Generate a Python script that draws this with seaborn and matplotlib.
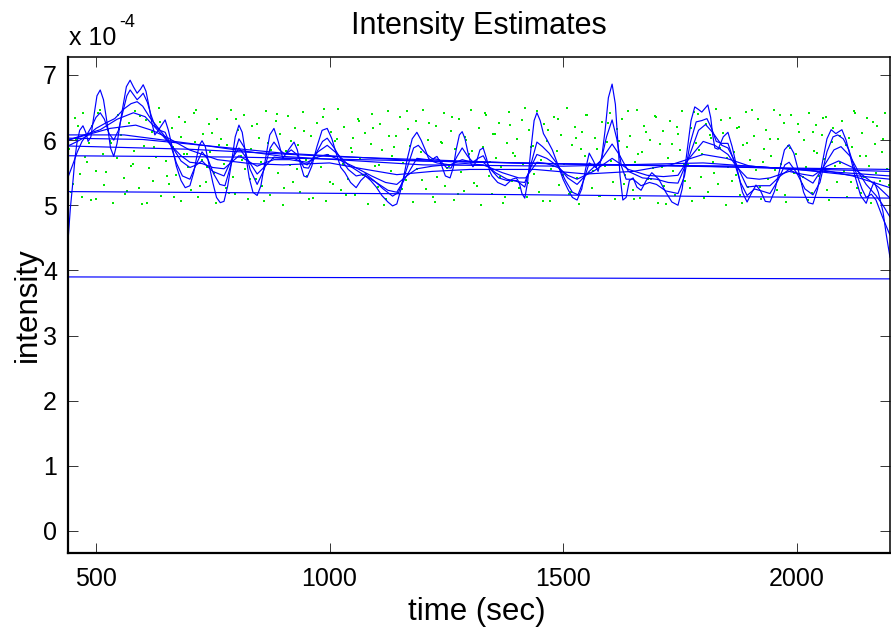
import numpy as np
import pandas as pd
import matplotlib
matplotlib.use("Agg")
import matplotlib.pyplot as plt
import seaborn as sns

# ---------------- data (intensity in units of 1e-4) ----------------
x_ticks = [500, 1000, 1500, 2000]
y_ticks = [0, 1, 2, 3, 4, 5, 6, 7]

c0_t = [440, 2200]
c0_y = [3.90, 3.87]

c1_t = [440, 1300, 2200]
c1_y = [5.21, 5.17, 5.11]

c2_t = [440, 800, 1200, 1600, 2000, 2200]
c2_y = [5.76, 5.74, 5.68, 5.62, 5.57, 5.55]

c3_t = [440, 700, 1000, 1400, 1800, 2200]
c3_y = [5.91, 5.86, 5.75, 5.65, 5.60, 5.52]

c4_t = [440, 600, 900, 1200, 1600, 1900, 2200]
c4_y = [6.03, 6.01, 5.80, 5.68, 5.62, 5.60, 5.45]

c5_t = [440, 560, 700, 900, 1200, 1500, 1800, 2000, 2200]
c5_y = [6.08, 6.08, 5.95, 5.75, 5.62, 5.60, 5.65, 5.55, 5.40]

c6_t = [440, 480, 530, 585, 620, 650, 700, 760, 830, 900, 1000, 1070, 1144, 1220, 1300,
        1440, 1550, 1650, 1730, 1800, 1850, 1900, 1980, 2050, 2120, 2200]
c6_y = [6.00, 6.08, 6.18, 6.23, 6.15, 6.05, 5.85, 5.70, 5.64, 5.62, 5.65, 5.56, 5.47, 5.52, 5.55,
        5.55, 5.48, 5.52, 5.62, 5.78, 5.72, 5.60, 5.56, 5.55, 5.45, 5.27]

c7_t = [440, 470, 509, 545, 580, 605, 626, 645, 663, 682, 701, 727, 750, 774, 790, 806, 825,
        845, 865, 881, 915, 952, 975, 995, 1020, 1050, 1090, 1120, 1144, 1165, 1187, 1220,
        1250, 1290, 1329, 1370, 1405, 1420, 1444, 1465, 1489, 1510, 1530, 1565, 1605, 1640,
        1680, 1715, 1746, 1770, 1800, 1825, 1853, 1873, 1894, 1920, 1943, 1984, 2010, 2035,
        2065, 2090, 2120, 2149, 2175, 2200]
c7_y = [6.00, 6.07, 6.16, 6.32, 6.42, 6.36, 6.20, 6.05, 5.90, 5.76, 5.66, 5.64, 5.58, 5.56, 5.66, 5.76, 5.68,
        5.60, 5.66, 5.70, 5.70, 5.66, 5.74, 5.78, 5.70, 5.60, 5.45, 5.35, 5.32, 5.45, 5.56, 5.60,
        5.62, 5.64, 5.62, 5.50, 5.42, 5.42, 5.66, 5.64, 5.58, 5.46, 5.40, 5.52, 5.72, 5.55,
        5.46, 5.44, 5.46, 5.72, 5.98, 5.92, 5.78, 5.58, 5.42, 5.40, 5.42, 5.52, 5.48, 5.45,
        5.60, 5.68, 5.58, 5.42, 5.28, 5.11]

c8_t = [440, 460, 480, 500, 520, 540, 560, 575, 588, 600, 615, 626, 645, 663, 682, 701, 715,
        727, 750, 774, 790, 806, 825, 845, 865, 881, 900, 924, 952, 975, 995, 1015, 1040, 1070,
        1100, 1125, 1144, 1165, 1187, 1210, 1230, 1258, 1284, 1305, 1329, 1355, 1380, 1405,
        1418, 1432, 1444, 1465, 1489, 1510, 1530, 1556, 1580, 1605, 1620, 1640, 1670, 1700,
        1725, 1746, 1770, 1790, 1805, 1820, 1840, 1853, 1873, 1894, 1920, 1943, 1965, 1984,
        2010, 2035, 2060, 2080, 2095, 2115, 2135, 2149, 2170, 2185, 2200]
c8_y = [5.91, 5.98, 6.06, 6.18, 6.26, 6.33, 6.48, 6.56, 6.59, 6.52, 6.35, 6.25, 6.08, 5.90, 5.68, 5.58, 5.62,
        5.68, 5.52, 5.45, 5.70, 5.88, 5.70, 5.48, 5.62, 5.74, 5.72, 5.72, 5.62, 5.82, 5.92, 5.80, 5.62, 5.48,
        5.35, 5.23, 5.20, 5.45, 5.72, 5.70, 5.65, 5.62, 5.70, 5.66, 5.66, 5.50, 5.40, 5.36,
        5.35, 5.60, 5.78, 5.72, 5.60, 5.42, 5.32, 5.52, 5.68, 5.94, 5.78, 5.52, 5.42, 5.40,
        5.35, 5.34, 5.75, 6.15, 6.24, 6.12, 5.92, 5.88, 5.60, 5.28, 5.30, 5.30, 5.45, 5.55,
        5.45, 5.34, 5.62, 5.85, 5.90, 5.75, 5.48, 5.32, 5.15, 5.00, 4.82]

c9_t = [440, 450, 460, 470, 480, 490, 500, 509, 518, 528, 538, 548, 558, 566, 573, 580, 588,
        595, 601, 610, 618, 626, 637, 648, 660, 672, 685, 701, 714, 727, 740, 752, 765, 776,
        790, 806, 818, 830, 845, 860, 873, 881, 893, 905, 918, 930, 945, 955, 970, 985, 995,
        1010, 1025, 1040, 1057, 1077, 1095, 1115, 1135, 1148, 1165, 1180, 1190, 1205, 1219,
        1235, 1250, 1260, 1273, 1284, 1296, 1307, 1318, 1329, 1345, 1362, 1380, 1400, 1418,
        1430, 1444, 1456, 1470, 1489, 1505, 1520, 1532, 1545, 1556, 1570, 1582, 1593, 1605,
        1615, 1625, 1635, 1650, 1667, 1685, 1700, 1720, 1746, 1760, 1772, 1785, 1797, 1808,
        1818, 1828, 1840, 1853, 1865, 1880, 1894, 1910, 1925, 1943, 1960, 1975, 1984, 2000,
        2018, 2035, 2050, 2065, 2078, 2088, 2100, 2112, 2125, 2140, 2149, 2160, 2170, 2185, 2200]
c9_y = [5.43, 5.62, 5.82, 5.98, 6.08, 6.20, 6.35, 6.42, 6.32, 6.10, 6.00, 6.15, 6.45, 6.68, 6.77, 6.70, 6.62,
        6.67, 6.72, 6.58, 6.38, 6.22, 6.15, 6.12, 5.92, 5.65, 5.45, 5.40, 5.62, 5.82, 5.70, 5.48, 5.32, 5.30,
        5.65, 6.02, 5.88, 5.55, 5.32, 5.55, 5.88, 5.97, 5.85, 5.78, 5.85, 5.78, 5.58, 5.57, 5.78, 5.98, 6.03,
        5.88, 5.70, 5.55, 5.45, 5.48, 5.38, 5.25, 5.14, 5.20, 5.55, 5.88, 5.92, 5.80, 5.72,
        5.70, 5.58, 5.57, 5.75, 5.88, 5.75, 5.66, 5.72, 5.76, 5.55, 5.42, 5.38, 5.38, 5.28,
        5.60, 5.97, 5.90, 5.80, 5.62, 5.38, 5.20, 5.16, 5.40, 5.65, 5.58, 5.70, 6.05, 6.31,
        6.02, 5.60, 5.40, 5.40, 5.30, 5.35, 5.32, 5.22, 5.18, 5.45, 5.95, 6.28, 6.30, 6.33,
        6.18, 5.98, 5.95, 5.95, 5.70, 5.35, 5.15, 5.25, 5.22, 5.18, 5.38, 5.62, 5.66, 5.50,
        5.25, 5.16, 5.35, 5.82, 6.05, 6.08, 6.02, 5.85, 5.55, 5.25, 5.12, 5.17, 5.08, 4.80, 4.54]

c10_t = [440, 445, 451, 455, 459, 465, 472, 478, 483, 489, 495, 502, 509, 516, 524, 531, 538,
         545, 556, 565, 573, 580, 588, 595, 601, 607, 614, 620, 626, 636, 648, 655, 663, 672,
         682, 691, 701, 709, 715, 721, 727, 734, 742, 750, 758, 766, 774, 782, 790, 798, 806,
         813, 820, 828, 836, 845, 853, 863, 872, 881, 890, 900, 912, 924, 931, 938, 945, 952,
         962, 973, 984, 995, 1005, 1015, 1024, 1033, 1045, 1057, 1067, 1077, 1088, 1100, 1112,
         1125, 1135, 1144, 1155, 1166, 1177, 1187, 1196, 1205, 1212, 1219, 1225, 1230, 1238,
         1248, 1258, 1265, 1271, 1278, 1284, 1290, 1296, 1302, 1307, 1315, 1322, 1329, 1336,
         1343, 1348, 1360, 1376, 1391, 1400, 1406, 1412, 1418, 1424, 1431, 1438, 1444, 1451,
         1458, 1466, 1477, 1489, 1500, 1510, 1520, 1530, 1540, 1548, 1556, 1565, 1575, 1583,
         1590, 1597, 1605, 1612, 1617, 1622, 1628, 1635, 1642, 1650, 1658, 1667, 1678, 1690,
         1705, 1720, 1733, 1746, 1755, 1765, 1774, 1782, 1790, 1797, 1803, 1810, 1816, 1821,
         1825, 1832, 1843, 1853, 1862, 1873, 1884, 1894, 1903, 1913, 1923, 1933, 1943, 1953,
         1964, 1974, 1984, 1994, 2005, 2015, 2025, 2035, 2045, 2055, 2065, 2074, 2084, 2097,
         2106, 2115, 2125, 2137, 2149, 2158, 2166, 2175, 2185, 2192, 2200]
c10_y = [4.45, 4.95, 5.40, 5.72, 5.95, 6.15, 6.22, 6.12, 5.98, 6.05, 6.35, 6.68, 6.77, 6.62, 6.25, 5.88, 5.75,
         5.95, 6.45, 6.82, 6.92, 6.82, 6.72, 6.78, 6.85, 6.75, 6.50, 6.25, 6.08, 6.18, 6.31, 6.15, 5.90, 5.60,
         5.38, 5.27, 5.30, 5.50, 5.72, 5.92, 5.99, 5.90, 5.62, 5.35, 5.12, 5.04, 5.06, 5.30, 5.65, 6.05, 6.23,
         6.12, 5.80, 5.42, 5.20, 5.15, 5.30, 5.72, 6.08, 6.18, 5.98, 5.72, 5.85, 5.97, 5.85, 5.62, 5.45, 5.43,
         5.60, 5.90, 6.15, 6.18, 6.02, 5.78, 5.58, 5.50, 5.35, 5.27, 5.38, 5.45, 5.38, 5.28, 5.15,
         5.05, 4.99, 5.02, 5.30, 5.70, 6.02, 6.12, 6.00, 5.85, 5.72, 5.68, 5.73, 5.75, 5.65,
         5.45, 5.42, 5.58, 5.85, 6.08, 6.13, 6.02, 5.82, 5.65, 5.59, 5.68, 5.85, 5.88, 5.72,
         5.52, 5.45, 5.35, 5.30, 5.40, 5.42, 5.35, 5.18, 5.11, 5.35, 5.85, 6.30, 6.42, 6.30,
         6.10, 6.00, 5.85, 5.62, 5.40, 5.25, 5.12, 5.08, 5.25, 5.55, 5.80, 5.68, 5.52, 5.75,
         6.15, 6.65, 6.86, 6.55, 6.00, 5.45, 5.08, 5.12, 5.38, 5.42, 5.28, 5.23, 5.38, 5.50,
         5.40, 5.20, 5.05, 5.00, 5.25, 5.80, 6.30, 6.51, 6.47, 6.43, 6.48, 6.54, 6.35, 6.05,
         5.88, 5.86, 6.05, 6.12, 5.90, 5.55, 5.20, 5.05, 5.18, 5.31, 5.22, 5.06, 5.05, 5.22,
         5.55, 5.85, 5.93, 5.80, 5.50, 5.20, 5.04, 5.02, 5.25, 5.65, 6.02, 6.16, 6.10, 6.16,
         6.00, 5.75, 5.45, 5.15, 5.03, 5.22, 5.36, 5.20, 4.90, 4.55, 4.20]

# event marks (time, jittered intensity level)
dot_points = [
    (443, 5.87), (447, 5.21), (455, 6.34), (458, 6.02), (466, 5.48), (471, 5.13), (473, 6.41), (481, 5.66),
    (486, 5.95), (492, 6.22), (499, 5.09), (501, 5.53), (509, 6.47), (515, 5.78), (518, 5.31), (526, 6.15),
    (529, 5.99), (537, 5.04), (544, 5.72), (546, 6.38), (553, 6.08), (560, 5.42), (563, 5.17), (570, 6.26),
    (575, 5.61), (582, 5.83), (584, 6.44), (591, 5.26), (598, 5.02), (603, 5.91), (606, 6.31), (613, 5.57),
    (619, 6.12), (621, 5.38), (629, 5.74), (634, 6.49), (640, 5.14), (647, 6.05), (649, 5.68), (656, 5.33),
    (662, 6.19), (665, 5.89), (672, 5.46), (678, 6.36), (683, 5.07), (689, 5.79), (691, 6.28), (698, 5.59),
    (704, 5.23), (709, 6.42), (712, 5.97), (719, 5.12), (726, 5.70), (729, 6.10), (735, 5.35), (741, 6.24),
    (744, 5.81), (752, 5.50), (757, 5.03), (760, 6.33), (767, 6.01), (773, 5.64), (778, 5.27), (781, 5.93),
    (789, 6.46), (794, 5.44), (797, 5.18), (805, 6.16), (810, 5.76), (816, 6.39), (819, 5.55), (826, 5.09),
    (832, 5.86), (835, 6.21), (842, 5.40), (848, 6.03), (853, 5.67), (856, 5.29), (863, 6.45), (869, 5.96),
    (872, 5.15), (879, 5.73), (885, 6.30), (890, 5.49), (893, 6.09), (901, 5.01), (906, 5.84), (912, 6.37),
    (915, 5.62), (922, 5.36), (927, 6.18), (933, 5.92), (937, 5.20), (944, 6.43), (949, 5.69), (952, 5.45),
    (960, 6.06), (965, 5.11), (971, 5.80), (974, 6.27), (981, 5.58), (986, 6.35), (992, 5.06), (996, 5.77),
    (1003, 6.13), (1008, 5.32), (1011, 5.98), (1018, 6.48), (1024, 5.24), (1029, 5.63), (1032, 6.20),
    (1040, 5.41), (1045, 5.88), (1050, 6.04), (1054, 5.16), (1061, 6.32), (1066, 5.71), (1072, 5.47),
    (1075, 6.11), (1082, 5.02), (1088, 5.94), (1091, 6.40), (1098, 5.60), (1104, 5.28), (1109, 6.25),
    (1113, 5.85), (1120, 5.10), (1125, 6.44), (1131, 5.52), (1134, 5.75), (1142, 6.07), (1147, 5.19),
    (1151, 6.36), (1158, 5.65), (1163, 5.39), (1169, 6.17), (1172, 5.91), (1179, 5.05), (1185, 6.29),
    (1188, 5.56), (1195, 5.82), (1201, 6.46), (1206, 5.25), (1210, 6.00), (1217, 5.70), (1222, 5.13),
    (1228, 6.22), (1231, 5.43), (1238, 5.97), (1244, 6.41), (1248, 5.30), (1255, 5.61), (1260, 6.14),
    (1266, 5.08), (1269, 5.87), (1277, 6.33), (1282, 5.51), (1287, 5.22), (1291, 6.05), (1298, 5.78),
    (1303, 6.47), (1309, 5.34), (1312, 5.66), (1319, 6.19), (1325, 5.00), (1329, 5.90), (1336, 6.38),
    (1341, 5.45), (1347, 5.17), (1350, 6.10), (1357, 5.73), (1363, 6.26), (1368, 5.58), (1372, 5.04),
    (1379, 5.95), (1384, 6.43), (1390, 5.37), (1393, 5.80), (1401, 6.02), (1406, 5.27), (1411, 6.31),
    (1415, 5.63), (1422, 5.12), (1428, 6.16), (1431, 5.89), (1438, 5.48), (1444, 6.45), (1449, 5.21),
    (1453, 5.70), (1460, 6.24), (1465, 5.99), (1471, 5.07), (1474, 5.55), (1481, 6.35), (1487, 5.83),
    (1492, 5.31), (1496, 6.08), (1503, 5.64), (1508, 6.49), (1512, 5.18), (1519, 5.92), (1525, 6.20),
    (1530, 5.42), (1534, 5.02), (1541, 6.12), (1546, 5.76), (1552, 6.39), (1555, 5.50), (1562, 5.26),
    (1568, 6.03), (1573, 5.86), (1577, 5.14), (1584, 6.28), (1589, 5.60), (1593, 5.97), (1600, 6.42),
    (1606, 5.35), (1611, 5.09), (1615, 6.17), (1622, 5.74), (1627, 6.33), (1633, 5.46), (1636, 5.90),
    (1643, 6.07), (1649, 5.23), (1654, 5.67), (1658, 6.46), (1665, 5.11), (1670, 5.81), (1674, 6.22),
    (1681, 5.40), (1687, 6.00), (1692, 5.57), (1696, 6.37), (1703, 5.03), (1708, 5.94), (1714, 6.14),
    (1717, 5.29), (1724, 5.72), (1730, 6.30), (1735, 5.52), (1739, 5.16), (1746, 6.09), (1751, 5.85),
    (1755, 6.44), (1762, 5.38), (1768, 5.62), (1773, 6.18), (1777, 5.06), (1784, 5.96), (1789, 6.40),
    (1795, 5.44), (1798, 5.78), (1805, 6.25), (1811, 5.20), (1816, 6.04), (1820, 5.66), (1827, 6.48),
    (1832, 5.33), (1836, 5.88), (1843, 6.11), (1849, 5.01), (1854, 5.59), (1858, 6.34), (1865, 5.82),
    (1870, 5.47), (1876, 6.20), (1879, 5.15), (1886, 5.93), (1892, 6.43), (1897, 5.28), (1901, 5.69),
    (1908, 6.06), (1913, 5.54), (1917, 6.32), (1924, 5.10), (1930, 5.86), (1935, 6.15), (1939, 5.41),
    (1946, 5.75), (1951, 6.47), (1957, 5.24), (1960, 6.01), (1967, 5.63), (1973, 6.27), (1978, 5.05),
    (1982, 5.91), (1989, 6.38), (1994, 5.49), (1998, 5.79), (2005, 6.13), (2011, 5.32), (2016, 6.00),
    (2020, 5.58), (2027, 6.42), (2032, 5.19), (2038, 5.84), (2041, 6.23), (2048, 5.45), (2054, 6.08),
    (2059, 5.71), (2063, 6.36), (2070, 5.08), (2075, 5.97), (2079, 6.18), (2086, 5.36), (2092, 5.65),
    (2097, 6.29), (2101, 5.53), (2108, 5.13), (2113, 6.04), (2119, 5.89), (2122, 6.45), (2129, 5.27),
    (2135, 5.76), (2140, 6.11), (2144, 5.43), (2151, 6.34), (2156, 5.61), (2160, 5.04), (2167, 5.94),
    (2173, 6.21), (2178, 5.38), (2182, 5.81), (2189, 6.41), (2194, 5.55),
]

dot2_t = [450, 462, 477, 489, 505, 521, 533, 549, 566, 579,
          594, 609, 624, 637, 652, 668, 681, 695, 715, 723,
          738, 749, 764, 785, 800, 813, 829, 845, 860, 875,
          888, 903, 918, 930, 946, 957, 968, 989, 1000, 1015,
          1036, 1048, 1063, 1079, 1094, 1106, 1117, 1128, 1138, 1155,
          1166, 1182, 1198, 1213, 1225, 1241, 1252, 1263, 1274, 1293,
          1306, 1316, 1332, 1344, 1354, 1366, 1376, 1387, 1398, 1418,
          1425, 1435, 1456, 1468, 1478, 1490, 1500, 1516, 1528, 1538,
          1549, 1565, 1580, 1597, 1603, 1619, 1630, 1640, 1652, 1661,
          1678, 1689, 1700, 1711, 1721, 1733, 1743, 1758, 1771, 1780,
          1792, 1802, 1814, 1824, 1839, 1852, 1862, 1873, 1883, 1894,
          1905, 1921, 1928, 1943, 1954, 1964, 1975, 1986, 2002, 2013,
          2024, 2035, 2044, 2057, 2066, 2082, 2094, 2105, 2116, 2126,
          2138, 2148, 2163, 2170, 2186, 2197]
dot2_y = [5.33, 6.21, 5.74, 5.08, 6.42, 5.51, 5.96, 6.17, 5.22, 5.64,
          6.37, 5.03, 5.89, 6.28, 5.45, 5.12, 6.05, 5.78, 6.46, 5.30,
          5.58, 6.11, 5.93, 5.19, 6.33, 5.69, 5.41, 6.24, 5.06, 5.85,
          6.40, 5.27, 5.99, 5.55, 6.14, 5.10, 5.72, 6.48, 5.36, 6.02,
          5.15, 5.81, 6.30, 5.48, 6.19, 5.62, 5.01, 6.07, 5.90, 5.25,
          6.44, 5.70, 5.39, 6.26, 5.05, 5.95, 5.57, 6.35, 5.18, 6.00,
          5.83, 5.29, 6.41, 5.66, 6.09, 5.43, 5.12, 6.23, 5.76, 6.49,
          5.34, 5.91, 5.07, 6.16, 5.60, 6.32, 5.47, 5.21, 6.04, 5.87,
          6.38, 5.52, 5.14, 6.27, 5.68, 5.98, 5.32, 6.45, 5.09, 5.79,
          6.12, 5.40, 6.36, 5.58, 5.02, 5.94, 6.20, 5.64, 5.26, 6.43,
          5.85, 5.11, 6.08, 5.49, 6.31, 5.73, 5.37, 6.18, 5.04, 5.96,
          6.47, 5.28, 5.67, 6.02, 5.54, 6.39, 5.16, 5.88, 6.25, 5.44,
          5.08, 6.13, 5.80, 6.34, 5.23, 5.61, 6.06, 5.92, 5.35, 6.42,
          5.19, 5.75, 6.28, 5.50, 6.01, 5.31]

# ---------------- build long table ----------------
curves = [(c0_t, c0_y), (c1_t, c1_y), (c2_t, c2_y), (c3_t, c3_y), (c4_t, c4_y),
          (c5_t, c5_y), (c6_t, c6_y), (c7_t, c7_y), (c8_t, c8_y), (c9_t, c9_y),
          (c10_t, c10_y)]
frames = []
for i, (t, y) in enumerate(curves):
    frames.append(pd.DataFrame({"time": t, "intensity": y, "curve": i}))
df = pd.concat(frames, ignore_index=True)
dots = pd.concat([pd.DataFrame(dot_points, columns=["time", "intensity"]),
                  pd.DataFrame({"time": dot2_t, "intensity": dot2_y})],
                 ignore_index=True)

# ---------------- style ----------------
sns.set_style("white")
plt.rcParams["font.family"] = ["Liberation Sans", "DejaVu Sans"]
for key in ["text.color", "axes.labelcolor", "xtick.color", "ytick.color"]:
    plt.rcParams[key] = "black"

W, H = 891, 630
fig = plt.figure(figsize=(W / 100, H / 100), dpi=100)
ax = fig.add_axes([68 / W, 1 - 553 / H, 822 / W, 496 / H])

sns.scatterplot(data=dots, x="time", y="intensity", ax=ax, marker="s", s=2.6,
                color="#00e600", linewidth=0, legend=False, zorder=1)
sns.lineplot(data=df, x="time", y="intensity", units="curve", estimator=None,
             sort=False, color="#0000ff", lw=0.85, ax=ax, legend=False, zorder=2)

ax.set_xlim(440, 2200)
ax.set_ylim(-0.338, 7.276)
ax.set_xticks(x_ticks)
ax.set_yticks(y_ticks)
ax.set_xticklabels([str(v) for v in x_ticks])
ax.set_yticklabels([str(v) for v in y_ticks])
ax.tick_params(axis="both", which="major", direction="in", length=7, width=0.7,
               color="#333333", labelcolor="black", labelsize=18, top=True, right=True,
               bottom=True, left=True)
ax.tick_params(axis="x", pad=10)
ax.tick_params(axis="y", pad=8)
for s in ax.spines.values():
    s.set_visible(True)
    s.set_color("black")
    s.set_linewidth(1.1)
ax.spines["left"].set_linewidth(1.6)
ax.spines["bottom"].set_linewidth(1.6)

ax.set_xlabel("time (sec)", fontsize=22.5, color="black")
ax.set_ylabel("intensity", fontsize=22.5, color="black")
ax.xaxis.set_label_coords(0.497, -0.089)
ax.yaxis.set_label_coords(-0.031, 0.5)
ax.set_title("Intensity Estimates", fontsize=22, y=1.046, pad=0, color="black")

fig.text(69 / W, 1 - 45 / H, "x 10", fontsize=18, ha="left", va="baseline", color="black")
fig.text(119 / W, 1 - 27 / H, "-4", fontsize=13, ha="left", va="baseline", color="black")

fig.savefig("out.png", dpi=100)
